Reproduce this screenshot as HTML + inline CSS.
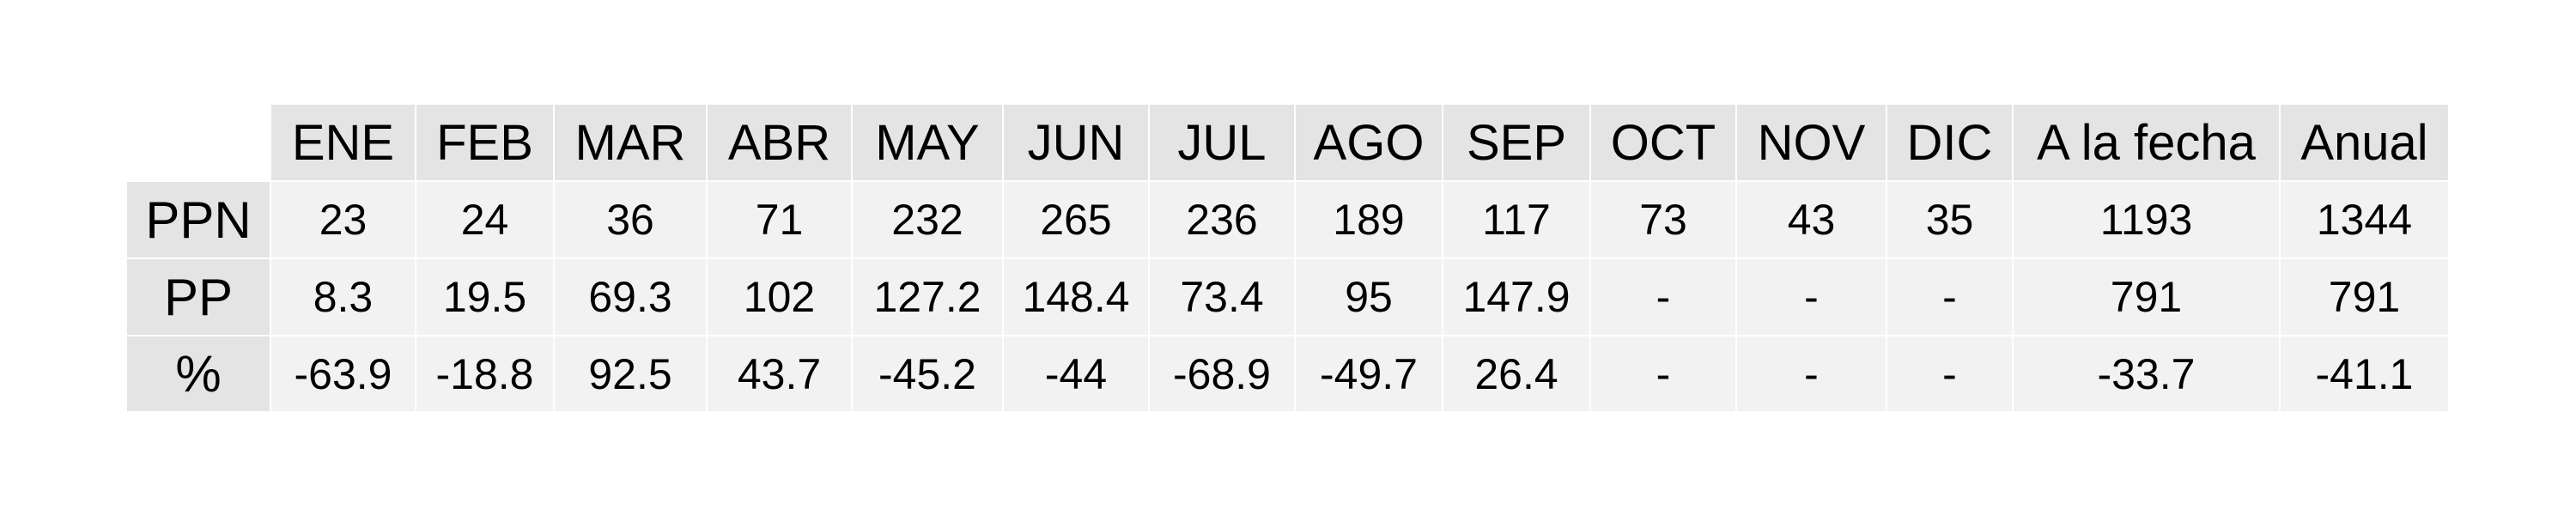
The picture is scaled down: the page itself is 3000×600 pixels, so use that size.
<!DOCTYPE html>
<html><head><meta charset="utf-8">
<style>
html,body{margin:0;padding:0;background:#fff;width:3000px;height:600px;overflow:hidden}
#t{position:absolute;left:0;top:0;width:3000px;height:600px;font-family:"Liberation Sans",Arial,sans-serif;color:#000}
.c{position:absolute;display:flex;align-items:center;justify-content:center;box-sizing:border-box;white-space:nowrap}
</style></head>
<body>
<div id="t"></div>
<script>
const colHeaders=["ENE","FEB","MAR","ABR","MAY","JUN","JUL","AGO","SEP","OCT","NOV","DIC","A la fecha","Anual"];
const rowLabels=["PPN","PP","%"];
const ppnValues=["23","24","36","71","232","265","236","189","117","73","43","35","1193","1344"];
const ppValues=["8.3","19.5","69.3","102","127.2","148.4","73.4","95","147.9","-","-","-","791","791"];
const pctValues=["-63.9","-18.8","92.5","43.7","-45.2","-44","-68.9","-49.7","26.4","-","-","-","-33.7","-41.1"];
const rows=[ppnValues,ppValues,pctValues];
const colEdges=[315,484,645,823,992,1168,1338,1508,1680,1852,2022,2197,2344,2655,2852];
const rowEdges=[122,211,301,391,480];
const labelLeft=148;
const t=document.getElementById('t');
function cell(x,y,w,h,bg,txt,fs){
  const d=document.createElement('div');
  d.className='c';
  d.style.cssText+=`left:${x}px;top:${y}px;width:${w}px;height:${h}px;background:${bg};font-size:${fs}px;`;
  d.textContent=txt;
  t.appendChild(d);
  return d;
}
colHeaders.forEach((h,i)=>{
  const d=cell(colEdges[i]+1,rowEdges[0],colEdges[i+1]-colEdges[i]-2,rowEdges[1]-rowEdges[0]-1,'#e4e4e4',h,58);
  
  
});
rowLabels.forEach((r,j)=>{
  const y=rowEdges[j+1]+1,h=rowEdges[j+2]-rowEdges[j+1]-2;
  const d=cell(labelLeft,y,colEdges[0]-labelLeft-1,h,'#e4e4e4',r,60);
  
  
  rows[j].forEach((v,i)=>{
    const c=cell(colEdges[i]+1,y,colEdges[i+1]-colEdges[i]-2,h,'#f2f2f2',v,50);
    
    
  });
});
</script>
</body></html>
